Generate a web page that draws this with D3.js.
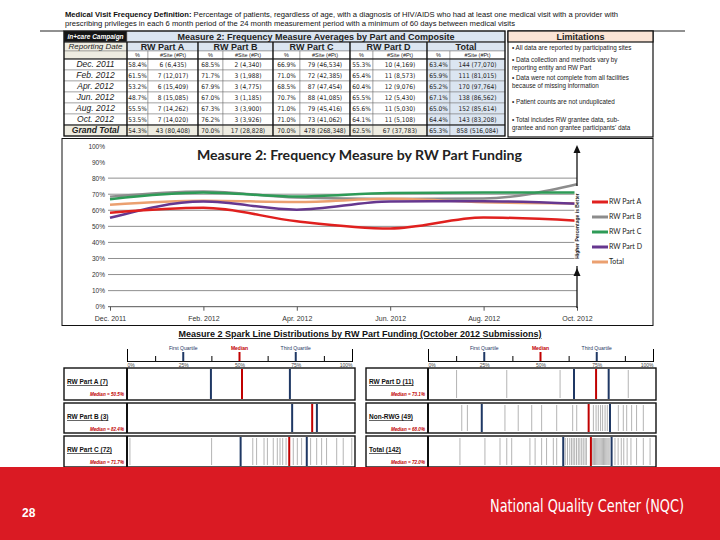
<!DOCTYPE html>
<html>
<head>
<meta charset="utf-8">
<script src="https://cdn.jsdelivr.net/npm/d3@7"></script>
<style>
body{margin:0;background:#fff;}
svg{display:block;font-family:Arial,"Liberation Sans",sans-serif;}
</style>
</head>
<body>
<script>
// data
var dates = ["Dec. 2011", "Feb. 2012", "Apr. 2012", "Jun. 2012", "Aug. 2012", "Oct. 2012"];
var partA = [58.4, 61.5, 53.2, 48.7, 55.5, 53.5];
var partB = [68.5, 71.7, 67.9, 67.0, 67.3, 76.2];
var partC = [66.9, 71.0, 68.5, 70.7, 71.0, 71.0];
var partD = [55.3, 65.4, 60.4, 65.5, 65.6, 64.1];
var total = [63.4, 65.9, 65.2, 67.1, 65.0, 64.4];

var sitesA = ["6 (6,435)", "7 (12,017)", "6 (15,409)", "8 (15,085)", "7 (14,262)", "7 (14,020)"];
var sitesB = ["2 (4,340)", "3 (1,988)", "3 (4,775)", "3 (1,185)", "3 (3,900)", "3 (3,926)"];
var sitesC = ["79 (46,534)", "72 (42,385)", "87 (47,454)", "88 (41,085)", "79 (45,416)", "73 (41,062)"];
var sitesD = ["10 (4,169)", "11 (8,573)", "12 (9,076)", "12 (5,430)", "11 (5,030)", "11 (5,108)"];
var sitesT = ["144 (77,070)", "111 (81,015)", "170 (97,764)", "138 (86,562)", "152 (85,614)", "143 (83,208)"];
var grandPct = [54.3, 70.0, 70.0, 62.5, 65.3];
var grandSites = ["43 (80,408)", "17 (28,828)", "478 (268,348)", "67 (37,783)", "858 (516,084)"];

var partNames = ["RW Part A", "RW Part B", "RW Part C", "RW Part D", "Total"];
var lineColors = ["#e0201e", "#8c8c8c", "#2e9b57", "#66378f", "#eba070"];

var limitations = [
	["\u2022 All data are reported by participating sites"],
	["\u2022 Data collection and methods vary by", "reporting entity and RW Part"],
	["\u2022 Data were not complete from all facilities", "because of missing information"],
	["\u2022 Patient counts are not unduplicated"],
	["\u2022 Total includes RW grantee data, sub-", "grantee and non grantee participants' data"]
];

// spark line panels (October 2012)
var sparkNames = ["RW Part A (7)", "RW Part B (3)", "RW Part C (72)", "RW Part D (11)", "Non-RWG (49)", "Total (142)"];
var sparkMedianText = ["50.5%", "82.4%", "71.7%", "73.1%", "68.0%", "72.0%"];
var sparkQ1 = [37.3, 73.4, 50.5, 64.9, 23.9, 60.1];
var sparkMed = [51.1, 82.3, 72.1, 74.7, 71.4, 72.4];
var sparkQ3 = [72.4, 84.4, 79.9, 80.3, 80.9, 81.6];
var sparkSitesA = [];
var sparkSitesB = [];
var sparkSitesC = [1.3, 37.6, 55.9, 57.6, 60.9, 62.4, 65.0, 66.8, 68.0, 69.2, 70.7, 73.9, 75.7, 77.6, 81.6, 84.3, 86.5, 88.7, 93.2, 96.1, 99.9];
var sparkSitesD = [12.7, 35.0, 58.7, 89.0];
var sparkSitesN = [15.0, 17.5, 34.2, 40.1, 46.1, 50.5, 57.2, 64.3, 66.1, 73.5, 74.7, 75.7, 76.7, 77.6, 78.7, 79.7, 84.6, 86.8, 88.3, 90.5, 92.7, 95.7];
var sparkSitesT = [14.2, 25.3, 32.0, 35.0, 37.2, 45.3, 47.6, 50.5, 52.7, 55.7, 57.2, 61.0, 62.0, 63.0, 63.8, 64.5, 65.2, 66.0, 66.8, 67.5, 68.3, 69.0, 69.8, 70.4,
	73.0, 73.5, 74.0, 74.5, 75.0, 75.5, 76.0, 76.5, 77.0, 77.5, 78.0, 78.5, 79.0, 79.5, 80.0, 80.5, 83.1, 84.5, 85.9, 87.0, 88.5, 90.2, 92.7, 95.7, 98.7];
var sparkSites = [sparkSitesA, sparkSitesB, sparkSitesC, sparkSitesD, sparkSitesN, sparkSitesT];

var svg = d3.select("body").append("svg").attr("width", 720).attr("height", 540);
var narrow = "'Liberation Sans Narrow','DejaVu Sans Condensed',Arial,sans-serif";

// ---------- definition text ----------
var h1 = svg.append("text").attr("x", 65).attr("y", 17).attr("font-size", 7.6)
	.attr("textLength", 553).attr("lengthAdjust", "spacingAndGlyphs").attr("fill", "#111");
h1.append("tspan").attr("font-weight", "bold").text("Medical Visit Frequency Definition: ");
h1.append("tspan").text("Percentage of patients, regardless of age, with a diagnosis of HIV/AIDS who had at least one medical visit with a provider with");
svg.append("text").attr("x", 65).attr("y", 25.5).attr("font-size", 7.6).attr("fill", "#111")
	.attr("textLength", 450).attr("lengthAdjust", "spacingAndGlyphs")
	.text("prescribing privileges in each 6 month period of the 24 month measurement period with a minimum of 60 days between medical visits");

svg.append("line").attr("x1", 40).attr("x2", 64).attr("y1", 31).attr("y2", 31).attr("stroke", "#222");
svg.append("line").attr("x1", 653).attr("x2", 685).attr("y1", 31).attr("y2", 31).attr("stroke", "#222");

// ---------- table ----------
var colX = [64, 127, 148, 198, 223, 273, 300, 350, 373, 427, 450, 505];
var rowY = [31, 42, 51, 59, 70, 81, 92, 103, 114, 125, 136];
var blue = "#dbe5f1", beige = "#eeece1";
var allPct = [partA, partB, partC, partD, total];
var allSites = [sitesA, sitesB, sitesC, sitesD, sitesT];

var cells = [];
cells.push({c0: 0, c1: 1, r: 0, fill: "#151515", text: "in+care Campaign", size: 6.5, weight: "bold", style: "italic", color: "#fff"});
cells.push({c0: 1, c1: 11, r: 0, fill: blue, text: "Measure 2: Frequency Measure Averages by Part and Composite", size: 9, weight: "bold"});
cells.push({c0: 0, c1: 1, r: 1, fill: beige, text: "Reporting Date", size: 8, style: "italic"});
partNames.forEach(function(p, i){
	cells.push({c0: 1 + i * 2, c1: 3 + i * 2, r: 1, fill: blue, text: p, size: 9, weight: "bold"});
	cells.push({c0: 1 + i * 2, c1: 2 + i * 2, r: 2, fill: "#fff", text: "%", size: 5.5});
	cells.push({c0: 2 + i * 2, c1: 3 + i * 2, r: 2, fill: "#fff", text: "#Site (#Pt)", size: 5.5});
});
cells.push({c0: 0, c1: 1, r: 2, fill: beige, text: ""});
dates.forEach(function(d, j){
	cells.push({c0: 0, c1: 1, r: 3 + j, fill: "#fff", text: d, size: 8.5, style: "italic"});
	allPct.forEach(function(arr, i){
		var f = i == 4 ? blue : "#fff";
		cells.push({c0: 1 + i * 2, c1: 2 + i * 2, r: 3 + j, fill: f, text: arr[j].toFixed(1) + "%", size: 6.5, font: narrow});
		cells.push({c0: 2 + i * 2, c1: 3 + i * 2, r: 3 + j, fill: f, text: allSites[i][j], size: 6.5, font: narrow});
	});
});
cells.push({c0: 0, c1: 1, r: 9, fill: beige, text: "Grand Total", size: 8.5, weight: "bold", style: "italic"});
grandPct.forEach(function(v, i){
	var f = i == 4 ? blue : beige;
	cells.push({c0: 1 + i * 2, c1: 2 + i * 2, r: 9, fill: f, text: v.toFixed(1) + "%", size: 6.5, font: narrow});
	cells.push({c0: 2 + i * 2, c1: 3 + i * 2, r: 9, fill: f, text: grandSites[i], size: 6.5, font: narrow});
});

var tcell = svg.append("g").selectAll("g").data(cells).enter().append("g");
tcell.append("rect")
	.attr("x", function(d){ return colX[d.c0]; })
	.attr("y", function(d){ return rowY[d.r]; })
	.attr("width", function(d){ return colX[d.c1] - colX[d.c0]; })
	.attr("height", function(d){ return rowY[d.r + 1] - rowY[d.r]; })
	.attr("fill", function(d){ return d.fill; })
	.attr("stroke", "#777").attr("stroke-width", 0.5);
tcell.append("text")
	.attr("x", function(d){ return (colX[d.c0] + colX[d.c1]) / 2; })
	.attr("y", function(d){ return (rowY[d.r] + rowY[d.r + 1]) / 2; })
	.attr("dy", "0.35em").attr("text-anchor", "middle")
	.attr("font-size", function(d){ return d.size || 7; })
	.attr("font-weight", function(d){ return d.weight || "normal"; })
	.attr("font-style", function(d){ return d.style || "normal"; })
	.attr("font-family", function(d){ return d.font || null; })
	.attr("fill", function(d){ return d.color || "#222"; })
	.text(function(d){ return d.text; });

// heavy borders of the table
[1, 3, 5, 7, 9].forEach(function(c){
	svg.append("line").attr("x1", colX[c]).attr("x2", colX[c]).attr("y1", rowY[1]).attr("y2", rowY[10])
		.attr("stroke", "#111").attr("stroke-width", 1.3);
});
[1, 3, 9].forEach(function(r){
	svg.append("line").attr("x1", colX[0]).attr("x2", colX[11]).attr("y1", rowY[r]).attr("y2", rowY[r])
		.attr("stroke", "#111").attr("stroke-width", 1.2);
});
svg.append("rect").attr("x", colX[0]).attr("y", rowY[0]).attr("width", colX[11] - colX[0]).attr("height", rowY[10] - rowY[0])
	.attr("fill", "none").attr("stroke", "#111").attr("stroke-width", 1.3);
svg.append("line").attr("x1", 62).attr("x2", 507).attr("y1", 138.5).attr("y2", 138.5).attr("stroke", "#111");

// limitations box
svg.append("rect").attr("x", 508).attr("y", 31).attr("width", 145).attr("height", 106).attr("fill", "#fff")
	.attr("stroke", "#111").attr("stroke-width", 1.2);
svg.append("rect").attr("x", 508).attr("y", 31).attr("width", 145).attr("height", 11).attr("fill", "#fbe4d5")
	.attr("stroke", "#111").attr("stroke-width", 1.2);
svg.append("text").attr("x", 580.5).attr("y", 39.5).attr("text-anchor", "middle").attr("font-size", 9)
	.attr("font-weight", "bold").attr("fill", "#222").text("Limitations");
var limY = [49.5, 62, 80, 104, 122];
limitations.forEach(function(lines, i){
	lines.forEach(function(t, k){
		svg.append("text").attr("x", 512).attr("y", limY[i] + k * 8).attr("font-size", 6.3)
			.attr("fill", "#222").text(t);
	});
});

// ---------- line chart ----------
svg.append("rect").attr("x", 62).attr("y", 138.5).attr("width", 591).attr("height", 187)
	.attr("fill", "none").attr("stroke", "#111").attr("stroke-width", 1);

var x = d3.scalePoint().domain(dates).range([110, 577]);
var y = d3.scaleLinear().domain([0, 100]).range([306.7, 146]);

svg.append("g").selectAll("line").data(d3.range(10, 81, 10)).enter().append("line")
	.attr("x1", 108).attr("x2", 577)
	.attr("y1", function(d){ return y(d); }).attr("y2", function(d){ return y(d); })
	.attr("stroke", "#8f8f8f").attr("stroke-width", 1);

var yAxis = svg.append("g").attr("transform", "translate(105,0)")
	.call(d3.axisLeft(y).tickValues(d3.range(0, 101, 10)).tickFormat(function(d){ return d + "%"; }).tickSize(0).tickPadding(0));
yAxis.select(".domain").remove();
yAxis.selectAll("text").attr("font-size", 6.5).attr("fill", "#333");

var xAxis = svg.append("g").attr("transform", "translate(0," + y(0) + ")")
	.call(d3.axisBottom(x).tickSize(4).tickPadding(5).tickSizeOuter(0));
xAxis.select(".domain").attr("d", "M108,0H577").attr("stroke", "#555");
xAxis.selectAll(".tick line").attr("stroke", "#555");
xAxis.selectAll("text").attr("font-size", 7).attr("fill", "#333");

var line = d3.line().x(function(d, i){ return x(dates[i]); }).y(function(d){ return y(d); }).curve(d3.curveMonotoneX);
var series = [partB, total, partD, partC, partA];
var seriesColors = [lineColors[1], lineColors[4], lineColors[3], lineColors[2], lineColors[0]];
svg.append("g").selectAll("path").data(series).enter().append("path")
	.attr("d", line).attr("fill", "none")
	.attr("stroke", function(d, i){ return seriesColors[i]; })
	.attr("stroke-width", 2.5);

svg.append("text").attr("x", 197).attr("y", 159.5).attr("font-family", "Lato, 'Open Sans', sans-serif")
	.attr("font-size", 14).attr("font-weight", "bold").attr("fill", "#222")
	.attr("textLength", 325).attr("lengthAdjust", "spacingAndGlyphs")
	.text("Measure 2: Frequency Measure by RW Part Funding");

// "higher is better" arrow
svg.append("line").attr("x1", 577).attr("x2", 577).attr("y1", 147).attr("y2", 308).attr("stroke", "#111").attr("stroke-width", 1.3);
[145, 268].forEach(function(ay){
	svg.append("path").attr("d", "M577," + ay + "L573.5," + (ay + 8) + "L580.5," + (ay + 8) + "Z").attr("fill", "#111");
});
svg.append("rect").attr("x", 574.5).attr("y", 186).attr("width", 5).attr("height", 80).attr("fill", "#fff");
svg.append("text").attr("transform", "translate(579.2,226) rotate(-90)").attr("text-anchor", "middle")
	.attr("font-size", 5).attr("font-weight", "bold").attr("fill", "#222").text("Higher Percentage is Better");

// legend
var legend = svg.append("g").selectAll("g").data(partNames).enter().append("g")
	.attr("transform", function(d, i){ return "translate(592," + (202 + i * 15) + ")"; });
legend.append("line").attr("x1", 0).attr("x2", 16).attr("stroke-width", 3)
	.attr("stroke", function(d, i){ return lineColors[i]; });
legend.append("text").attr("x", 17).attr("dy", "0.35em").attr("font-size", 7)
	.attr("font-family", "Lato, sans-serif").attr("fill", "#222").text(function(d){ return d; });

// ---------- spark lines ----------
svg.append("text").attr("x", 360).attr("y", 337).attr("text-anchor", "middle").attr("font-size", 9)
	.attr("font-weight", "bold").attr("text-decoration", "underline").attr("fill", "#111")
	.text("Measure 2 Spark Line Distributions by RW Part Funding (October 2012 Submissions)");

var sides = [{lab: 64, plot: 127, end: 352, right: 355}, {lab: 366, plot: 428, end: 653, right: 656}];
var panelY = [[368, 400], [403, 433], [436, 467]];
var navy = "#1f3864", red = "#c00000";
var keyMarks = [[25, "First Quartile", navy], [50, "Median", red], [75, "Third Quartile", navy]];

sides.forEach(function(s, si){
	var sx = d3.scaleLinear().domain([0, 100]).range([s.plot, s.end]);

	var tickAx = svg.append("g").attr("transform", "translate(0,361)")
		.call(d3.axisTop(sx).tickValues([12.5, 37.5, 62.5, 87.5]).tickSize(5).tickSizeOuter(0).tickFormat(""));
	tickAx.select(".domain").attr("stroke", "#111");
	svg.append("g").attr("transform", "translate(0,362)")
		.call(d3.axisTop(sx).tickValues([0, 100]).tickSize(13).tickFormat(""))
		.select(".domain").remove();
	var labAx = svg.append("g").attr("transform", "translate(0,361)")
		.call(d3.axisBottom(sx).tickValues([0, 25, 50, 75, 100]).tickSize(0).tickPadding(2).tickFormat(function(d){ return d + "%"; }));
	labAx.select(".domain").remove();
	labAx.selectAll("text").attr("font-size", 5).attr("fill", "#444")
		.attr("text-anchor", function(d){ return d == 0 ? "start" : (d == 100 ? "end" : "middle"); });

	keyMarks.forEach(function(k){
		svg.append("line").attr("x1", sx(k[0])).attr("x2", sx(k[0])).attr("y1", 352).attr("y2", 361)
			.attr("stroke", k[2]).attr("stroke-width", 2);
		svg.append("text").attr("x", sx(k[0])).attr("y", 350).attr("text-anchor", "middle")
			.attr("font-size", 5).attr("font-weight", k[1] == "Median" ? "bold" : "normal")
			.attr("fill", k[2]).text(k[1]);
	});

	panelY.forEach(function(py, pi){
		var idx = si * 3 + pi;
		svg.append("rect").attr("x", s.lab).attr("y", py[0]).attr("width", s.right - s.lab).attr("height", py[1] - py[0])
			.attr("fill", "#fff").attr("stroke", "#111").attr("stroke-width", 1.4);
		svg.append("g").selectAll("line").data(sparkSites[idx]).enter().append("line")
			.attr("x1", function(d){ return sx(d); }).attr("x2", function(d){ return sx(d); })
			.attr("y1", py[0] + 2).attr("y2", py[1] - 2)
			.attr("stroke", "#b4b4b4").attr("stroke-width", 1);
		[[sparkQ1[idx], navy], [sparkQ3[idx], navy], [sparkMed[idx], red]].forEach(function(m){
			svg.append("line").attr("x1", sx(m[0])).attr("x2", sx(m[0])).attr("y1", py[0] + 1).attr("y2", py[1] - 1)
				.attr("stroke", m[1]).attr("stroke-width", 2);
		});
		svg.append("line").attr("x1", s.plot).attr("x2", s.plot).attr("y1", py[0]).attr("y2", py[1])
			.attr("stroke", "#111").attr("stroke-width", 2);
		svg.append("text").attr("x", s.lab + 3).attr("y", py[0] + 16).attr("font-size", 6.5).attr("font-weight", "bold")
			.attr("text-decoration", "underline").attr("fill", "#111").text(sparkNames[idx]);
		svg.append("text").attr("x", s.plot - 3).attr("y", py[0] + 27.5).attr("text-anchor", "end").attr("font-size", 4.6)
			.attr("font-weight", "bold").attr("font-style", "italic").attr("fill", red)
			.text("Median = " + sparkMedianText[idx]);
	});
});

// ---------- footer ----------
svg.append("rect").attr("x", 0).attr("y", 467).attr("width", 720).attr("height", 73).attr("fill", "#da1a23");
svg.append("text").attr("x", 22).attr("y", 517).attr("font-size", 12).attr("font-weight", "bold")
	.attr("fill", "#fff").text("28");
svg.append("text").attr("x", 490).attr("y", 512).attr("font-size", 17).attr("font-family", narrow)
	.attr("fill", "#fff").attr("textLength", 194).attr("lengthAdjust", "spacingAndGlyphs")
	.text("National Quality Center (NQC)");
</script>
</body>
</html>
